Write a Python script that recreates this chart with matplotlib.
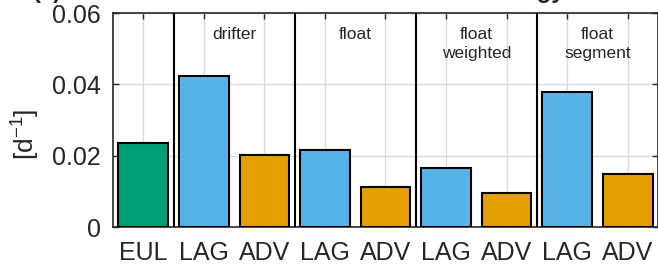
import numpy as np
import matplotlib
matplotlib.use('Agg')
from matplotlib import pyplot as plt

plt.rcParams['font.family'] = ['Liberation Sans', 'DejaVu Sans']
plt.rcParams['mathtext.fontset'] = 'custom'
plt.rcParams['mathtext.rm'] = 'Liberation Sans'
plt.rcParams['mathtext.it'] = 'Liberation Sans:italic'

# bar data, left to right
labels = ['EUL', 'LAG', 'ADV', 'LAG', 'ADV', 'LAG', 'ADV', 'LAG', 'ADV']
values = [0.0236, 0.0423, 0.0201, 0.0216, 0.0112, 0.0165, 0.0094, 0.0379, 0.0148]
kinds = ['EUL', 'LAG', 'ADV', 'LAG', 'ADV', 'LAG', 'ADV', 'LAG', 'ADV']
groups = ['drifter', 'float', 'float\nweighted', 'float\nsegment']

COLORS = {'EUL': '#009E73', 'LAG': '#56B4E9', 'ADV': '#E69F00'}
TXT = '#262626'

fig = plt.figure(figsize=(6.58, 2.67), dpi=100)
ax = fig.add_axes([0.1717, 0.1498, 0.8283, 0.8015])

x = np.arange(1, len(values) + 1)
ax.bar(x, values, width=0.82, color=[COLORS[k] for k in kinds],
       edgecolor='k', linewidth=1.5, zorder=3)

# black separators between groups + group names
for i, g in enumerate(groups):
    xs = 1.5 + 2 * i
    ax.axvline(xs, color='k', lw=1.5, zorder=4)
    ax.text(xs + 1, 0.0561, g, ha='center', va='top', fontsize=12.5,
            color=TXT, linespacing=1.3)

ax.set_xlim(0.5, 9.5)
ax.set_ylim(0, 0.06)
ax.set_xticks(x)
ax.set_xticklabels(labels)
ax.set_yticks([0, 0.02, 0.04, 0.06])
ax.set_yticklabels(['0', '0.02', '0.04', '0.06'])
ax.tick_params(direction='in', length=4, width=1, top=True, right=True,
               labelsize=18, colors=TXT)
ax.tick_params(axis='x', pad=10)
ax.tick_params(axis='y', pad=8.5)
ax.grid(True, color='#dcdcdc', lw=1, zorder=0)
ax.set_axisbelow(True)
for s in ax.spines.values():
    s.set_color(TXT)
    s.set_linewidth(1.2)
ax.set_ylabel('[d$^{-1}$]', fontsize=19, color=TXT)
ax.yaxis.set_label_coords(-0.13, 0.435)

# title, mostly cut off by the figure edge (as in the reference)
fig.text(0.05, 1.008, '(a)', fontsize=17, fontweight='bold', color=TXT,
         ha='left', va='baseline')
fig.text(0.858, 1.008, 'energy', fontsize=17, fontweight='bold', color=TXT,
         ha='right', va='baseline')

fig.savefig('out.png', dpi=100)
